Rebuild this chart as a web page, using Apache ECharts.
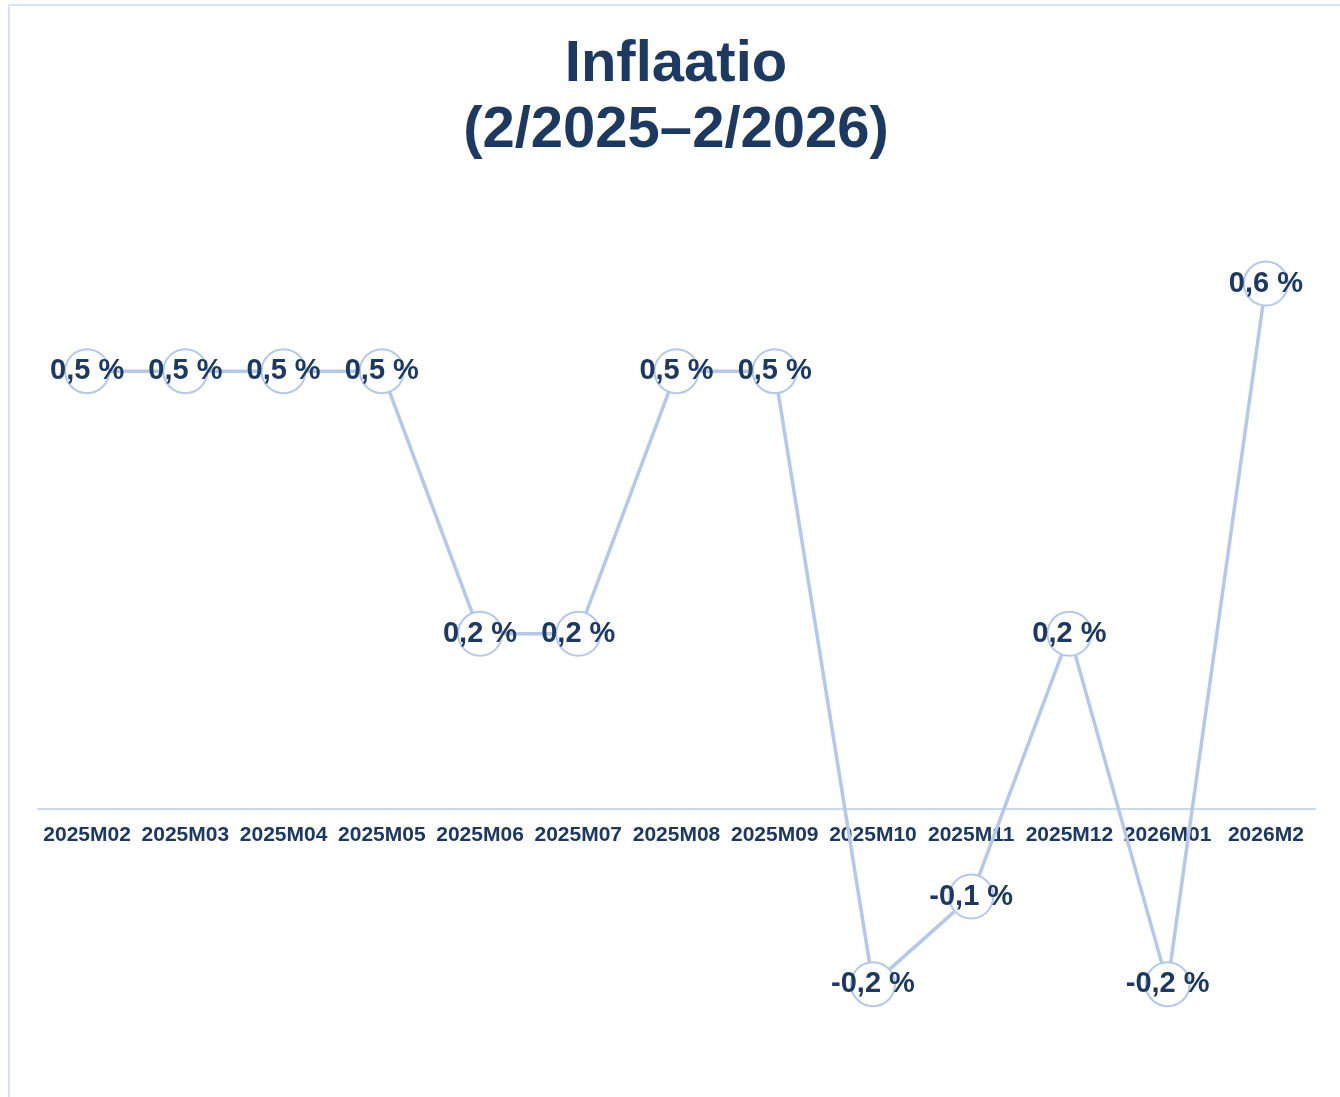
<!DOCTYPE html>
<html>
<head>
<meta charset="utf-8">
<script src="https://cdn.jsdelivr.net/npm/echarts@6/dist/echarts.min.js"></script>
<style>
html,body{margin:0;padding:0;background:#fff;}
#c{width:1340px;height:1097px;}
</style>
</head>
<body>
<div id="c"></div>
<script>
const categories = ['2025M02','2025M03','2025M04','2025M05','2025M06','2025M07','2025M08','2025M09','2025M10','2025M11','2025M12','2026M01','2026M2'];
const inflation = [0.5,0.5,0.5,0.5,0.2,0.2,0.5,0.5,-0.2,-0.1,0.2,-0.2,0.6];
const titleLines = ['Inflaatio','(2/2025–2/2026)'];

const navy = '#1c3961';
const lightBlue = '#b4c8ea';
const font = "'Liberation Sans', Arial, sans-serif";

const chart = echarts.init(document.getElementById('c'), null, {renderer:'canvas'});
chart.setOption({
  backgroundColor:'#ffffff',
  animation:false,
  graphic:[{
    type:'rect', z:-10, silent:true,
    shape:{x:9,y:5,width:1400,height:1200},
    style:{fill:'none',stroke:'#d6e2f5',lineWidth:2}
  },{
    type:'text', silent:true, x:676, y:32,
    style:{
      text: titleLines.join('\n'),
      align:'center', verticalAlign:'top',
      font:"bold 58px 'Liberation Sans', Arial, sans-serif",
      lineHeight:66, fill:navy
    }
  }],
  grid:{left:38,right:25,top:196,bottom:288,containLabel:false,outerBoundsMode:'none'},
  xAxis:{
    type:'category', data:categories, boundaryGap:true,
    axisLine:{show:true,onZero:false,lineStyle:{color:'#c9d9f0',width:2}},
    axisTick:{show:false},
    axisLabel:{interval:0,margin:16,fontFamily:font,fontWeight:'bold',fontSize:21,color:navy}
  },
  yAxis:{
    type:'value', min:0, max:0.7, show:false,
    splitLine:{show:false}
  },
  series:[{
    type:'line', data:inflation, clip:false,
    symbol:'circle', symbolSize:44,
    itemStyle:{color:'#ffffff',borderColor:lightBlue,borderWidth:2},
    lineStyle:{color:lightBlue,width:3.5},
    label:{
      show:true, position:'inside',
      formatter:p=>p.value.toFixed(1).replace('.',',')+' %',
      fontFamily:font,fontWeight:'bold',fontSize:29,color:navy
    }
  }]
});
</script>
</body>
</html>
